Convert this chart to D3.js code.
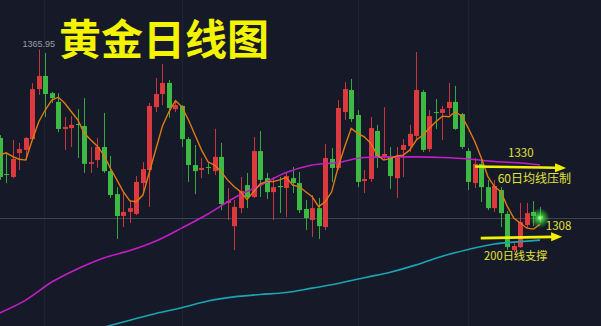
<!DOCTYPE html>
<html>
<head>
<meta charset="utf-8">
<script src="https://cdn.jsdelivr.net/npm/d3@7"></script>
<style>
body{margin:0;background:#161a28;overflow:hidden;}
svg{display:block;}
</style>
</head>
<body>
<script>
// daily candles, price values
var opens=[1335.6,1323.2,1322.2,1330.4,1331.5,1335.2,1352.4,1356.9,1351.0,1348.0,
1338.7,1339.0,1340.4,1339.7,1326.7,1328.0,1332.5,1324.2,1316.3,1308.8,
1310.2,1309.5,1320.1,1324.6,1346.2,1350.7,1354.5,1345.5,1346.6,1335.2,
1326.3,1324.6,1325.6,1324.2,1329.1,1313.3,1305.3,1311.5,1319.4,1315.3,
1331.1,1321.8,1317.0,1319.1,1318.4,1321.8,1320.1,1311.2,1307.4,1311.5,
1305.0,1328.4,1325.3,1344.5,1352.1,1343.5,1320.8,1321.5,1338.0,1329.1,
1329.4,1321.8,1331.5,1332.8,1336.3,1351.4,1331.8,1344.5,1344.2,1345.9,
1348.0,1343.8,1331.1,1320.1,1326.7,1318.7,1311.5,1317.7,1309.5,1297.1,
1298.1,1305.7,1310.2,1308.8];
var highs=[1336.6,1330.4,1334.9,1333.9,1335.9,1354.5,1365.95,1364.8,1351.4,1351.0,
1342.8,1343.1,1345.5,1349.3,1332.5,1335.6,1344.2,1329.4,1318.7,1317.0,
1314.3,1322.5,1327.3,1347.6,1356.2,1361.0,1355.5,1348.6,1346.9,1335.9,
1333.2,1328.7,1327.3,1338.7,1333.9,1318.4,1314.3,1322.2,1323.6,1335.9,
1338.0,1323.6,1322.2,1322.2,1323.9,1325.6,1323.9,1314.3,1316.0,1315.0,
1333.5,1332.1,1348.6,1354.8,1355.9,1345.2,1324.6,1342.8,1340.1,1346.2,
1332.5,1332.5,1335.2,1340.1,1365.1,1352.1,1345.2,1349.0,1346.6,1354.5,
1353.5,1344.2,1332.1,1328.7,1328.7,1321.2,1321.2,1318.7,1310.5,1299.9,
1313.3,1313.3,1313.9,1311.9];
var lows=[1321.2,1320.1,1321.8,1324.6,1328.0,1334.9,1350.4,1342.8,1347.6,1337.6,
1331.5,1332.5,1328.7,1323.6,1323.6,1325.3,1323.6,1315.0,1300.9,1305.0,
1306.4,1309.1,1316.7,1311.9,1344.5,1346.9,1342.5,1344.5,1332.5,1320.5,
1316.3,1321.8,1323.2,1322.9,1310.8,1307.4,1297.1,1309.8,1311.5,1315.0,
1315.3,1314.6,1307.4,1309.8,1308.4,1316.7,1309.8,1304.0,1301.6,1300.9,
1304.0,1320.5,1324.6,1341.8,1341.1,1318.7,1316.7,1320.5,1325.3,1328.0,
1318.1,1315.0,1322.2,1330.8,1334.9,1330.8,1330.8,1338.7,1334.9,1343.5,
1338.4,1331.8,1317.7,1318.4,1313.6,1310.8,1310.2,1305.0,1297.1,1296.4,
1297.8,1304.7,1305.3,1306.4];
var closes=[1322.2,1322.9,1328.4,1331.8,1335.6,1352.4,1356.9,1350.7,1349.3,1338.7,
1339.4,1340.1,1340.1,1326.7,1327.3,1332.5,1324.2,1316.0,1308.8,1310.2,
1311.5,1320.5,1324.9,1346.6,1350.7,1354.5,1345.9,1346.9,1335.2,1326.3,
1324.2,1325.3,1325.3,1329.1,1312.9,1313.9,1311.9,1317.4,1315.3,1331.1,
1321.2,1317.0,1318.7,1318.7,1322.5,1320.1,1310.8,1308.1,1311.5,1305.3,
1328.7,1325.3,1345.9,1352.4,1342.1,1320.5,1321.5,1339.0,1329.1,1330.1,
1322.5,1329.4,1333.2,1337.0,1352.1,1331.5,1343.1,1344.2,1345.5,1348.0,
1338.7,1332.5,1320.5,1326.7,1318.7,1311.5,1319.1,1309.8,1298.1,1298.5,
1306.7,1309.8,1308.8,1308.1];

// short moving average (orange), one value per candle
var ma5=[1329.7,1330.5,1329.2,1328.3,1328.0,1334.9,1341.2,1345.2,1348.6,1349.6,
1347.5,1344.6,1341.8,1337.2,1334.9,1332.8,1329.7,1325.2,1321.2,1317.1,
1314.0,1313.7,1316.0,1323.9,1331.8,1339.7,1344.6,1348.4,1346.3,1341.8,
1336.6,1331.5,1327.4,1326.3,1324.0,1321.2,1318.9,1317.1,1314.5,1317.1,
1319.8,1320.6,1320.6,1321.2,1322.1,1319.4,1318.9,1317.1,1315.4,1312.0,
1313.7,1317.1,1325.7,1332.6,1338.9,1337.2,1336.0,1333.8,1329.7,1328.0,
1328.6,1329.4,1329.7,1331.5,1334.9,1336.6,1338.9,1341.2,1343.1,1342.9,
1344.6,1343.1,1338.9,1334.3,1328.6,1322.3,1318.9,1317.1,1312.0,1308.0,
1306.3,1304.6,1304.3,1305.9];

// 60 day line (magenta) and 200 day line (cyan), read every 4 candles
var ma60Idx=[0,4,8,12,16,20,24,28,32,36,40,44,48,52,56,60,64,68,72,76,80,83];
var ma60=[1275.5,1279.9,1286.1,1290.7,1294.4,1296.9,1300.2,1304.7,1309.5,1315.0,
1319.3,1323.7,1326.3,1327.2,1328.9,1329.1,1329.1,1328.9,1328.4,1327.5,1327.0,1326.3];
var ma200Idx=[16,20,24,28,32,36,40,44,48,52,56,60,64,68,72,76,80,83];
var ma200=[1270.6,1273.0,1275.3,1277.3,1279.6,1281.0,1281.8,1282.5,1284.0,1285.6,
1287.6,1289.5,1292.0,1295.0,1297.3,1299.2,1300.0,1300.5];

// month separators (candle index)
var gridIdx=[6.8,28,55,72];

// annotations: arrows [idx, price]
var arrowStart=[[73.0,1325.8],[73.9,1301.2]];
var arrowEnd=[[87.0,1325.3],[86.4,1301.7]];
var noteText=["1330","60日均线压制","1308","200日线支撑"];
var noteIdx=[78.1,76.5,83.9,74.4];
var notePrice=[1329.1,1320.0,1304.0,1293.8];
var noteSize=[11.5,12,11.5,11.2];

var title="黄金日线图";

var width=601,height=326;
var x=d3.scaleLinear().domain([0,83]).range([-0.3,540]);
var y=d3.scaleLinear().domain([1271,1383]).range([height,0]);

var svg=d3.select("body").append("svg")
  .attr("width",width).attr("height",height)
  .style("background","#161a28");

var defs=svg.append("defs");
var glow=defs.append("radialGradient").attr("id","glow");
glow.append("stop").attr("offset","0%").attr("stop-color","#d8ffd0").attr("stop-opacity",1);
glow.append("stop").attr("offset","25%").attr("stop-color","#55f04a").attr("stop-opacity",0.8);
glow.append("stop").attr("offset","100%").attr("stop-color","#2bd42b").attr("stop-opacity",0);

svg.selectAll(".grid").data(gridIdx).enter().append("line")
  .attr("class","grid")
  .attr("x1",function(d){return Math.round(x(d))+0.5;})
  .attr("x2",function(d){return Math.round(x(d))+0.5;})
  .attr("y1",0).attr("y2",height)
  .attr("stroke","#1e2231").attr("stroke-width",1);

var last=closes[closes.length-1];
svg.append("line")
  .attr("x1",0).attr("x2",width)
  .attr("y1",Math.round(y(last))+0.5).attr("y2",Math.round(y(last))+0.5)
  .attr("stroke","#3d4352").attr("stroke-width",1);

var candles=svg.selectAll(".candle").data(closes).enter().append("g").attr("class","candle");
candles.append("line")
  .attr("x1",function(d,i){return Math.round(x(i))+0.5;})
  .attr("x2",function(d,i){return Math.round(x(i))+0.5;})
  .attr("y1",function(d,i){return y(highs[i]);})
  .attr("y2",function(d,i){return y(lows[i]);})
  .attr("stroke",function(d,i){return d>=opens[i]?"#c8363b":"#36a83d";})
  .attr("stroke-width",1);
candles.append("rect")
  .attr("x",function(d,i){return Math.round(x(i))-2;})
  .attr("width",5)
  .attr("y",function(d,i){return y(Math.max(d,opens[i]));})
  .attr("height",function(d,i){return Math.max(1,Math.abs(y(d)-y(opens[i])));})
  .attr("fill",function(d,i){return d>=opens[i]?"#dc3a3f":"#3dba44";});

var line60=d3.line().x(function(d,i){return x(ma60Idx[i]);}).y(function(d){return y(d);}).curve(d3.curveMonotoneX);
svg.append("path").datum(ma60).attr("d",line60)
  .attr("fill","none").attr("stroke","#c21ec6").attr("stroke-width",1.6);

var line200=d3.line().x(function(d,i){return x(ma200Idx[i]);}).y(function(d){return y(d);}).curve(d3.curveMonotoneX);
svg.append("path").datum(ma200).attr("d",line200)
  .attr("fill","none").attr("stroke","#1ba4b4").attr("stroke-width",1.6);

var line5=d3.line().x(function(d,i){return x(i);}).y(function(d){return y(d);});
svg.append("path").datum(ma5).attr("d",line5)
  .attr("fill","none").attr("stroke","#e07a12").attr("stroke-width",1.4);

// glow on the last price
svg.append("circle")
  .attr("cx",x(83)).attr("cy",y(last)).attr("r",10)
  .attr("fill","url(#glow)");

// yellow arrows
for (var k=0;k<arrowStart.length;k++){
  var x0=x(arrowStart[k][0]),y0=y(arrowStart[k][1]);
  var x1=x(arrowEnd[k][0]),y1=y(arrowEnd[k][1]);
  var ang=Math.atan2(y1-y0,x1-x0);
  var hl=11,hw=4.5;
  var bx=x1-hl*Math.cos(ang),by=y1-hl*Math.sin(ang);
  svg.append("line")
    .attr("x1",x0).attr("y1",y0).attr("x2",bx+1).attr("y2",by)
    .attr("stroke","#f2f200").attr("stroke-width",2.6);
  svg.append("path")
    .attr("d","M"+x1+","+y1+"L"+(bx-hw*Math.sin(ang))+","+(by+hw*Math.cos(ang))+"L"+(bx+hw*Math.sin(ang))+","+(by-hw*Math.cos(ang))+"Z")
    .attr("fill","#f2f200");
}

svg.selectAll(".note").data(noteText).enter().append("text")
  .attr("class","note")
  .attr("x",function(d,i){return x(noteIdx[i]);})
  .attr("y",function(d,i){return y(notePrice[i]);})
  .style("font-family","'Noto Sans CJK SC','Noto Sans',sans-serif")
  .style("font-size",function(d,i){return noteSize[i]+"px";})
  .style("fill","#e2e23a")
  .text(function(d){return d;});

// highest price label
var hi=d3.max(highs),hiIdx=highs.indexOf(hi);
svg.append("text")
  .attr("x",x(hiIdx)).attr("y",y(hi)-2.5)
  .attr("text-anchor","middle")
  .style("font-family","'Liberation Sans',Arial,sans-serif")
  .style("font-size","9px")
  .style("fill","#9a9ca3")
  .text(d3.format(".2f")(hi));

svg.append("text")
  .attr("x",59).attr("y",55)
  .style("font-family","'Noto Sans CJK SC',sans-serif")
  .style("font-size","42px")
  .style("font-weight","bold")
  .style("fill","#f4f400")
  .text(title);
</script>
</body>
</html>
